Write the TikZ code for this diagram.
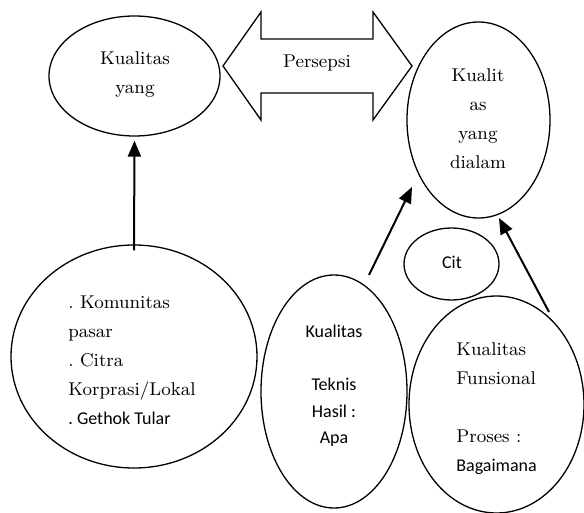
\documentclass[tikz,border=0pt]{standalone}
\usepackage{fontspec}
\newfontfamily\sansf{Carlito}
\usetikzlibrary{shapes.geometric,arrows.meta}
\frenchspacing
\tikzset{
	oval/.style={draw, ellipse, line width=1.3pt, inner sep=0pt},
	serif/.style={font=\fontsize{9.25}{14.5}\selectfont, inner sep=0pt, scale=2},
	sans/.style={font=\sansf\fontsize{9}{13.25}\selectfont, inner sep=0pt, scale=2},
	uparrow/.style={line width=2pt, -{Triangle[length=16pt,width=13pt]}}
}

\begin{document}
\begin{tikzpicture}[x=1pt, y=-1pt]
		%%%%% START %%%%%
		\useasboundingbox (0, 0) rectangle (584, 513);
		
		\node[oval, minimum width=171, minimum height=120] (ellA) at (134.5, 76) {};
		\node[serif, align=center] (txtA) at (135, 74) {Kualitas\\yang};
		
		\draw[line width=1.3pt, line join=miter] (223, 66) -- (261, 12) -- (261, 39) -- (373, 39) -- (373, 12) -- (412, 66)
			-- (373, 120) -- (373, 93) -- (261, 93) -- (261, 120) -- cycle;
		\node[serif] (persepsi) at (317, 63) {Persepsi};
		
		\node[oval, minimum width=143, minimum height=196] (ellB) at (478.5, 120) {};
		\node[serif, align=center] (txtB) at (478, 119) {Kualit\\as\\yang\\dialam};
		
		\node[oval, minimum width=246, minimum height=223] (ellC) at (134, 356.5) {};
		\node[serif, align=left, anchor=west] (txtC) at (68, 360) {. Komunitas\\pasar\\. Citra\\Korprasi/Lokal\\{\sansf\fontsize{9}{14.5}\selectfont . Gethok Tular}};
		
		\node[oval, minimum width=146, minimum height=233] (ellD) at (334, 391.5) {};
		\node[sans, align=center] (txtD) at (334, 386) {Kualitas\\[13.25pt]Teknis\\Hasil :\\Apa};
		
		\node[oval, minimum width=95, minimum height=72] (ellE) at (451.5, 264) {};
		\node[sans] (cit) at (452, 262) {Cit};
		
		\node[oval, minimum width=175, minimum height=217] (ellF) at (496.5, 404.5) {};
		\node[serif, align=left, anchor=west] (txtF) at (456, 409) {Kualitas\\Funsional\\[14.5pt]Proses :\\{\sansf\fontsize{9}{14.5}\selectfont Bagaimana}};
		
		\coordinate (dStart) at (369, 275);
		\coordinate (bTipL) at (412, 187);
		\coordinate (fStart) at (549, 312);
		\coordinate (bTipR) at (499, 218);
		
		\draw[uparrow] ([yshift=-6pt]ellC.north) -- ([yshift=-4pt]ellA.south);
		\draw[uparrow] (dStart) -- (bTipL);
		\draw[uparrow] (fStart) -- (bTipR);
		
		%%%%% END %%%%%
	\end{tikzpicture}
\end{document}
